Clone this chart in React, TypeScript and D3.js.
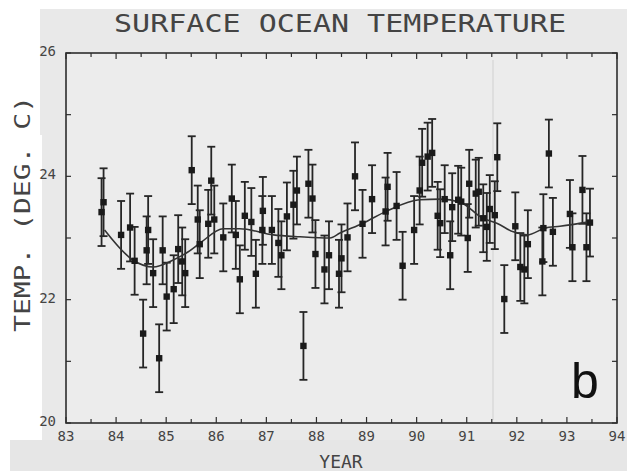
import React from "react";
import * as d3 from "d3";

const obsYear = [
  83.71, 83.75, 84.10, 84.28, 84.37, 84.54, 84.61, 84.64, 84.74, 84.86, 84.93, 85.01, 85.15, 85.24, 85.32, 85.38,
  85.51, 85.63, 85.67, 85.84, 85.90, 85.96, 86.14, 86.31, 86.39, 86.47, 86.57, 86.70, 86.79, 86.92, 86.93, 87.11,
  87.24, 87.30, 87.41, 87.54, 87.61, 87.74, 87.84, 87.92, 87.98, 88.16, 88.25, 88.45, 88.50, 88.62, 88.77, 88.92,
  89.11, 89.38, 89.42, 89.60, 89.72, 89.95, 90.06, 90.11, 90.22, 90.31, 90.42, 90.47, 90.56, 90.67, 90.71, 90.83,
  90.89, 91.02, 91.05, 91.18, 91.24, 91.33, 91.40, 91.46, 91.56, 91.61, 91.75, 91.97, 92.07, 92.15, 92.22, 92.51,
  92.53, 92.64, 92.72, 93.06, 93.11, 93.31, 93.39, 93.46,
];
const obsTemp = [
  23.42, 23.58, 23.05, 23.17, 22.63, 21.45, 22.80, 23.13, 22.43, 21.05, 22.80, 22.05, 22.17, 22.82, 22.62, 22.43,
  24.10, 23.30, 22.90, 23.23, 23.93, 23.30, 23.01, 23.64, 23.05, 22.33, 23.36, 23.26, 22.42, 23.13, 23.44, 23.13,
  22.92, 22.72, 23.35, 23.54, 23.77, 21.25, 23.88, 23.64, 22.74, 22.49, 22.72, 22.42, 22.67, 23.01, 24.00, 23.23,
  23.63, 23.43, 23.83, 23.52, 22.55, 23.13, 23.77, 24.22, 24.32, 24.38, 23.36, 23.24, 23.63, 22.72, 23.50, 23.62,
  23.59, 23.00, 23.88, 23.72, 23.75, 23.32, 23.18, 23.47, 23.37, 24.31, 22.01, 23.19, 22.53, 22.49, 22.90, 22.62,
  23.16, 24.37, 23.10, 23.39, 22.85, 23.78, 22.85, 23.25,
];
const obsErr = 0.55;

const fitYear = [
  83.77, 84.34, 84.74, 85.13, 85.41, 85.68, 86.14, 86.47, 87.14, 87.67, 88.27, 88.47, 88.93, 89.41, 90.06, 90.47,
  90.87, 91.32, 91.60, 91.93, 92.21, 92.56, 92.86, 93.52,
];
const fitTemp = [
  23.13, 22.64, 22.53, 22.64, 22.76, 22.92, 23.15, 23.15, 23.05, 23.02, 23.00, 23.08, 23.24, 23.44, 23.62, 23.63,
  23.58, 23.32, 23.24, 23.10, 23.05, 23.16, 23.19, 23.27,
];

const xTickLabels = ["83", "84", "85", "86", "87", "88", "89", "90", "91", "92", "93", "94"];
const yTickLabels = ["20", "22", "24", "26"];

const title = "SURFACE OCEAN TEMPERATURE";
const xLabel = "YEAR";
const yLabel = "TEMP. (DEG. C)";
const panelLabel = "b";

export default function App() {
  const W = 627;
  const H = 471;
  const x = d3.scaleLinear().domain([83, 94]).range([66, 617]);
  const y = d3.scaleLinear().domain([20, 26]).range([423, 53]);
  const ink = "#2e2e2e";
  const textInk = "#444";
  const plotFont = "'DejaVu Sans Mono', monospace";

  const line = d3
    .line<number>()
    .x((_, i) => x(fitYear[i]))
    .y((d) => y(d))
    .curve(d3.curveMonotoneX);

  const halfYears = d3.range(83, 94.01, 0.5);
  const intTemps = d3.range(20, 26.01, 1);

  return (
    <svg width={W} height={H} style={{ position: "absolute", left: 0, top: 0, background: "#fff" }}>
      <defs>
        <clipPath id="ylabClip">
          <rect x={13} y={0} width={40} height={H} />
        </clipPath>
      </defs>
      {/* scanned page background */}
      <rect x={0} y={0} width={W} height={H} fill="#ffffff" />
      <rect x={40} y={9} width={W - 40} height={H - 9} fill="#e9e9e9" />
      <rect x={0} y={135} width={42} height={305} fill="#ffffff" />
      <rect x={10} y={440} width={W - 10} height={H - 440} fill="#e6e6e6" />
      <rect x={66} y={53} width={551} height={370} fill="#ececec" />
      <line x1={493} x2={493} y1={60} y2={420} stroke="#dadada" strokeWidth={1.5} />

      {/* frame */}
      <rect x={66} y={53} width={551} height={370} fill="none" stroke={ink} strokeWidth={1.6} />

      {/* x ticks */}
      {halfYears.map((v) => {
        const len = Number.isInteger(v) ? 6 : 4;
        return (
          <g key={"xt" + v}>
            <line x1={x(v)} x2={x(v)} y1={423} y2={423 - len} stroke={ink} strokeWidth={1.2} />
            <line x1={x(v)} x2={x(v)} y1={53} y2={53 + len} stroke={ink} strokeWidth={1.2} />
          </g>
        );
      })}
      {/* y ticks */}
      {intTemps.map((v) => (
        <g key={"yt" + v}>
          <line x1={66} x2={71} y1={y(v)} y2={y(v)} stroke={ink} strokeWidth={1.2} />
          <line x1={617} x2={612} y1={y(v)} y2={y(v)} stroke={ink} strokeWidth={1.2} />
        </g>
      ))}

      {/* x tick labels */}
      {xTickLabels.map((t) => (
        <text
          key={"xl" + t}
          x={x(+t)}
          y={441}
          textAnchor="middle"
          fontFamily={plotFont}
          fontSize={14}
          fill={textInk}
        >
          {t}
        </text>
      ))}
      {/* y tick labels */}
      {yTickLabels.map((t) => (
        <text
          key={"yl" + t}
          x={56}
          y={y(+t) + 3}
          textAnchor="end"
          fontFamily={plotFont}
          fontSize={14}
          fill={textInk}
        >
          {t}
        </text>
      ))}

      {/* title */}
      <text
        x={340}
        y={32}
        textAnchor="middle"
        fontFamily={plotFont}
        fontSize={24}
        fill={textInk}
        textLength={452}
        lengthAdjust="spacingAndGlyphs"
      >
        {title}
      </text>
      {/* x label */}
      <text x={341} y={468} textAnchor="middle" fontFamily={plotFont} fontSize={18} fill={textInk}>
        {xLabel}
      </text>
      {/* y label */}
      <g clipPath="url(#ylabClip)">
        <text
          transform="translate(30,214) rotate(-90)"
          textAnchor="middle"
          fontFamily={plotFont}
          fontSize={21}
          fill={textInk}
          textLength={236}
          lengthAdjust="spacingAndGlyphs"
        >
          {yLabel}
        </text>
      </g>

      {/* error bars */}
      {obsYear.map((yr, i) => {
        const cx = x(yr);
        const top = y(obsTemp[i] + obsErr);
        const bot = y(obsTemp[i] - obsErr);
        return (
          <g key={"e" + i} stroke="#262626" strokeWidth={1.8}>
            <line x1={cx} x2={cx} y1={top} y2={bot} />
            <line x1={cx - 4} x2={cx + 4} y1={top} y2={top} />
            <line x1={cx - 4} x2={cx + 4} y1={bot} y2={bot} />
          </g>
        );
      })}
      {/* fitted curve */}
      <path d={line(fitTemp) || ""} fill="none" stroke="#333" strokeWidth={1.6} />
      {/* markers */}
      {obsYear.map((yr, i) => (
        <rect
          key={"m" + i}
          x={x(yr) - 3.2}
          y={y(obsTemp[i]) - 3.2}
          width={6.4}
          height={6.4}
          fill="#1a1a1a"
        />
      ))}

      {/* panel label */}
      <text x={571} y={398} fontFamily="'Liberation Sans', Arial, sans-serif" fontSize={50} fill="#111">
        {panelLabel}
      </text>
    </svg>
  );
}
